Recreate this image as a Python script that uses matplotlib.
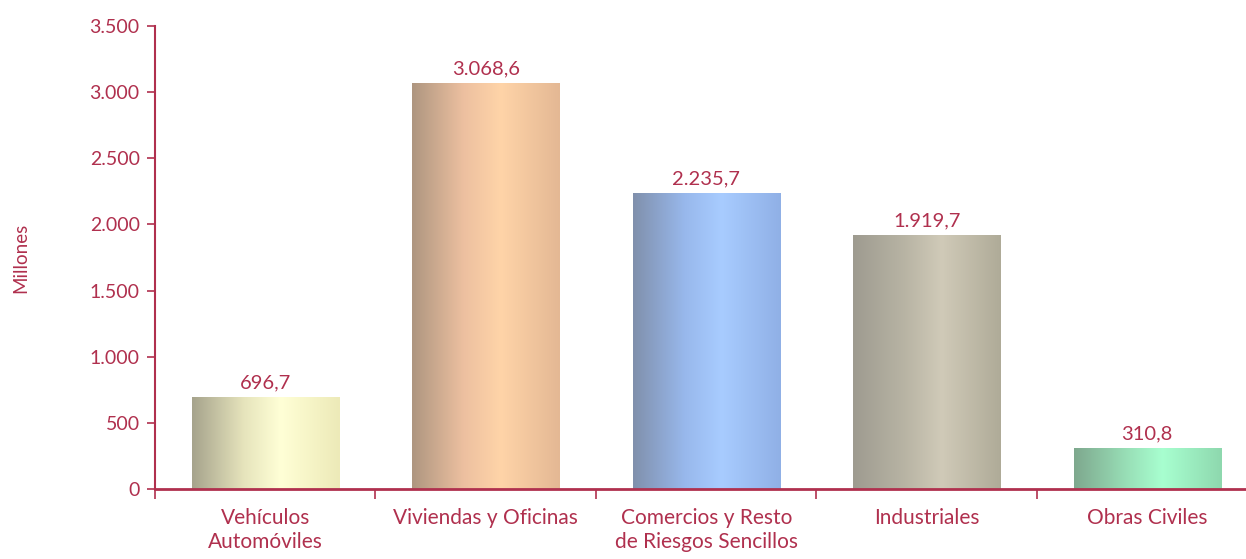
import numpy as np
import matplotlib
matplotlib.use('Agg')
import matplotlib.pyplot as plt
from matplotlib.colors import LinearSegmentedColormap
from matplotlib.ticker import FuncFormatter

plt.rcParams['font.family'] = ['Lato', 'DejaVu Sans']

categorias = ['Vehículos\nAutomóviles', 'Viviendas y Oficinas',
              'Comercios y Resto\nde Riesgos Sencillos', 'Industriales',
              'Obras Civiles']
valores = [696.7, 3068.6, 2235.7, 1919.7, 310.8]
etiquetas = ['696,7', '3.068,6', '2.235,7', '1.919,7', '310,8']

# degradado horizontal de cada barra: oscuro, claro, medio
degradados = [
    ['#A6A38C', '#E6E4BC', '#FFFFD6', '#EDEAB8'],
    ['#AE9680', '#EDC0A0', '#FFD4A8', '#E4B894'],
    ['#8090AC', '#98B8EC', '#A8CCFF', '#90B0E6'],
    ['#9E9B90', '#B8B4A4', '#D0CAB8', '#AFAB98'],
    ['#7EA88E', '#98DEB6', '#A8FFD0', '#8ED8AE'],
]
rojo = '#B0304E'

fig = plt.figure(figsize=(12.46, 5.59), dpi=100)
ax = fig.add_axes([0.1244, 0.1252, 0.8848, 0.8283])

x = np.arange(len(valores))
barras = ax.bar(x, valores, width=0.667, color='none', edgecolor='none')

grad = np.linspace(0, 1, 256).reshape(1, -1)
for b, cols in zip(barras, degradados):
    cmap = LinearSegmentedColormap.from_list('g', list(zip([0, 0.35, 0.6, 1], cols)))
    x0, y0 = b.get_x(), b.get_y()
    im = ax.imshow(grad, cmap=cmap, aspect='auto', interpolation='bicubic',
                   extent=[x0, x0 + b.get_width(), y0, y0 + b.get_height()],
                   zorder=2)
    im.set_clip_path(b)

for xi, v, t in zip(x, valores, etiquetas):
    ax.annotate(t, (xi, v), xytext=(0, 4), textcoords='offset points',
                ha='center', va='bottom', color=rojo, fontsize=14.5)

ax.set_xlim(-0.5, len(valores) - 0.5)
ax.set_ylim(0, 3500)
ax.set_yticks(np.arange(0, 3501, 500))
ax.yaxis.set_major_formatter(FuncFormatter(lambda v, p: f'{int(v):,}'.replace(',', '.')))

ax.set_xticks(x)
ax.set_xticklabels(categorias, color=rojo, fontsize=15, linespacing=1.2)
ax.set_xticks(np.arange(-0.5, len(valores)), minor=True)
ax.tick_params(axis='x', which='major', length=0, pad=14)
ax.tick_params(axis='x', which='minor', length=7, width=1.2, color=rojo, direction='out')
ax.tick_params(axis='y', length=6, width=1.2, color=rojo, labelcolor=rojo,
               labelsize=14, pad=5)

for s in ['top', 'right']:
    ax.spines[s].set_visible(False)
ax.spines['left'].set_color(rojo)
ax.spines['left'].set_linewidth(1.5)
ax.spines['bottom'].set_color(rojo)
ax.spines['bottom'].set_linewidth(2)
ax.spines['bottom'].set_zorder(5)

fig.text(0.017, 0.538, 'Millones', rotation=90, color=rojo, fontsize=13.5,
         ha='center', va='center')

fig.savefig('out.png', dpi=100)
